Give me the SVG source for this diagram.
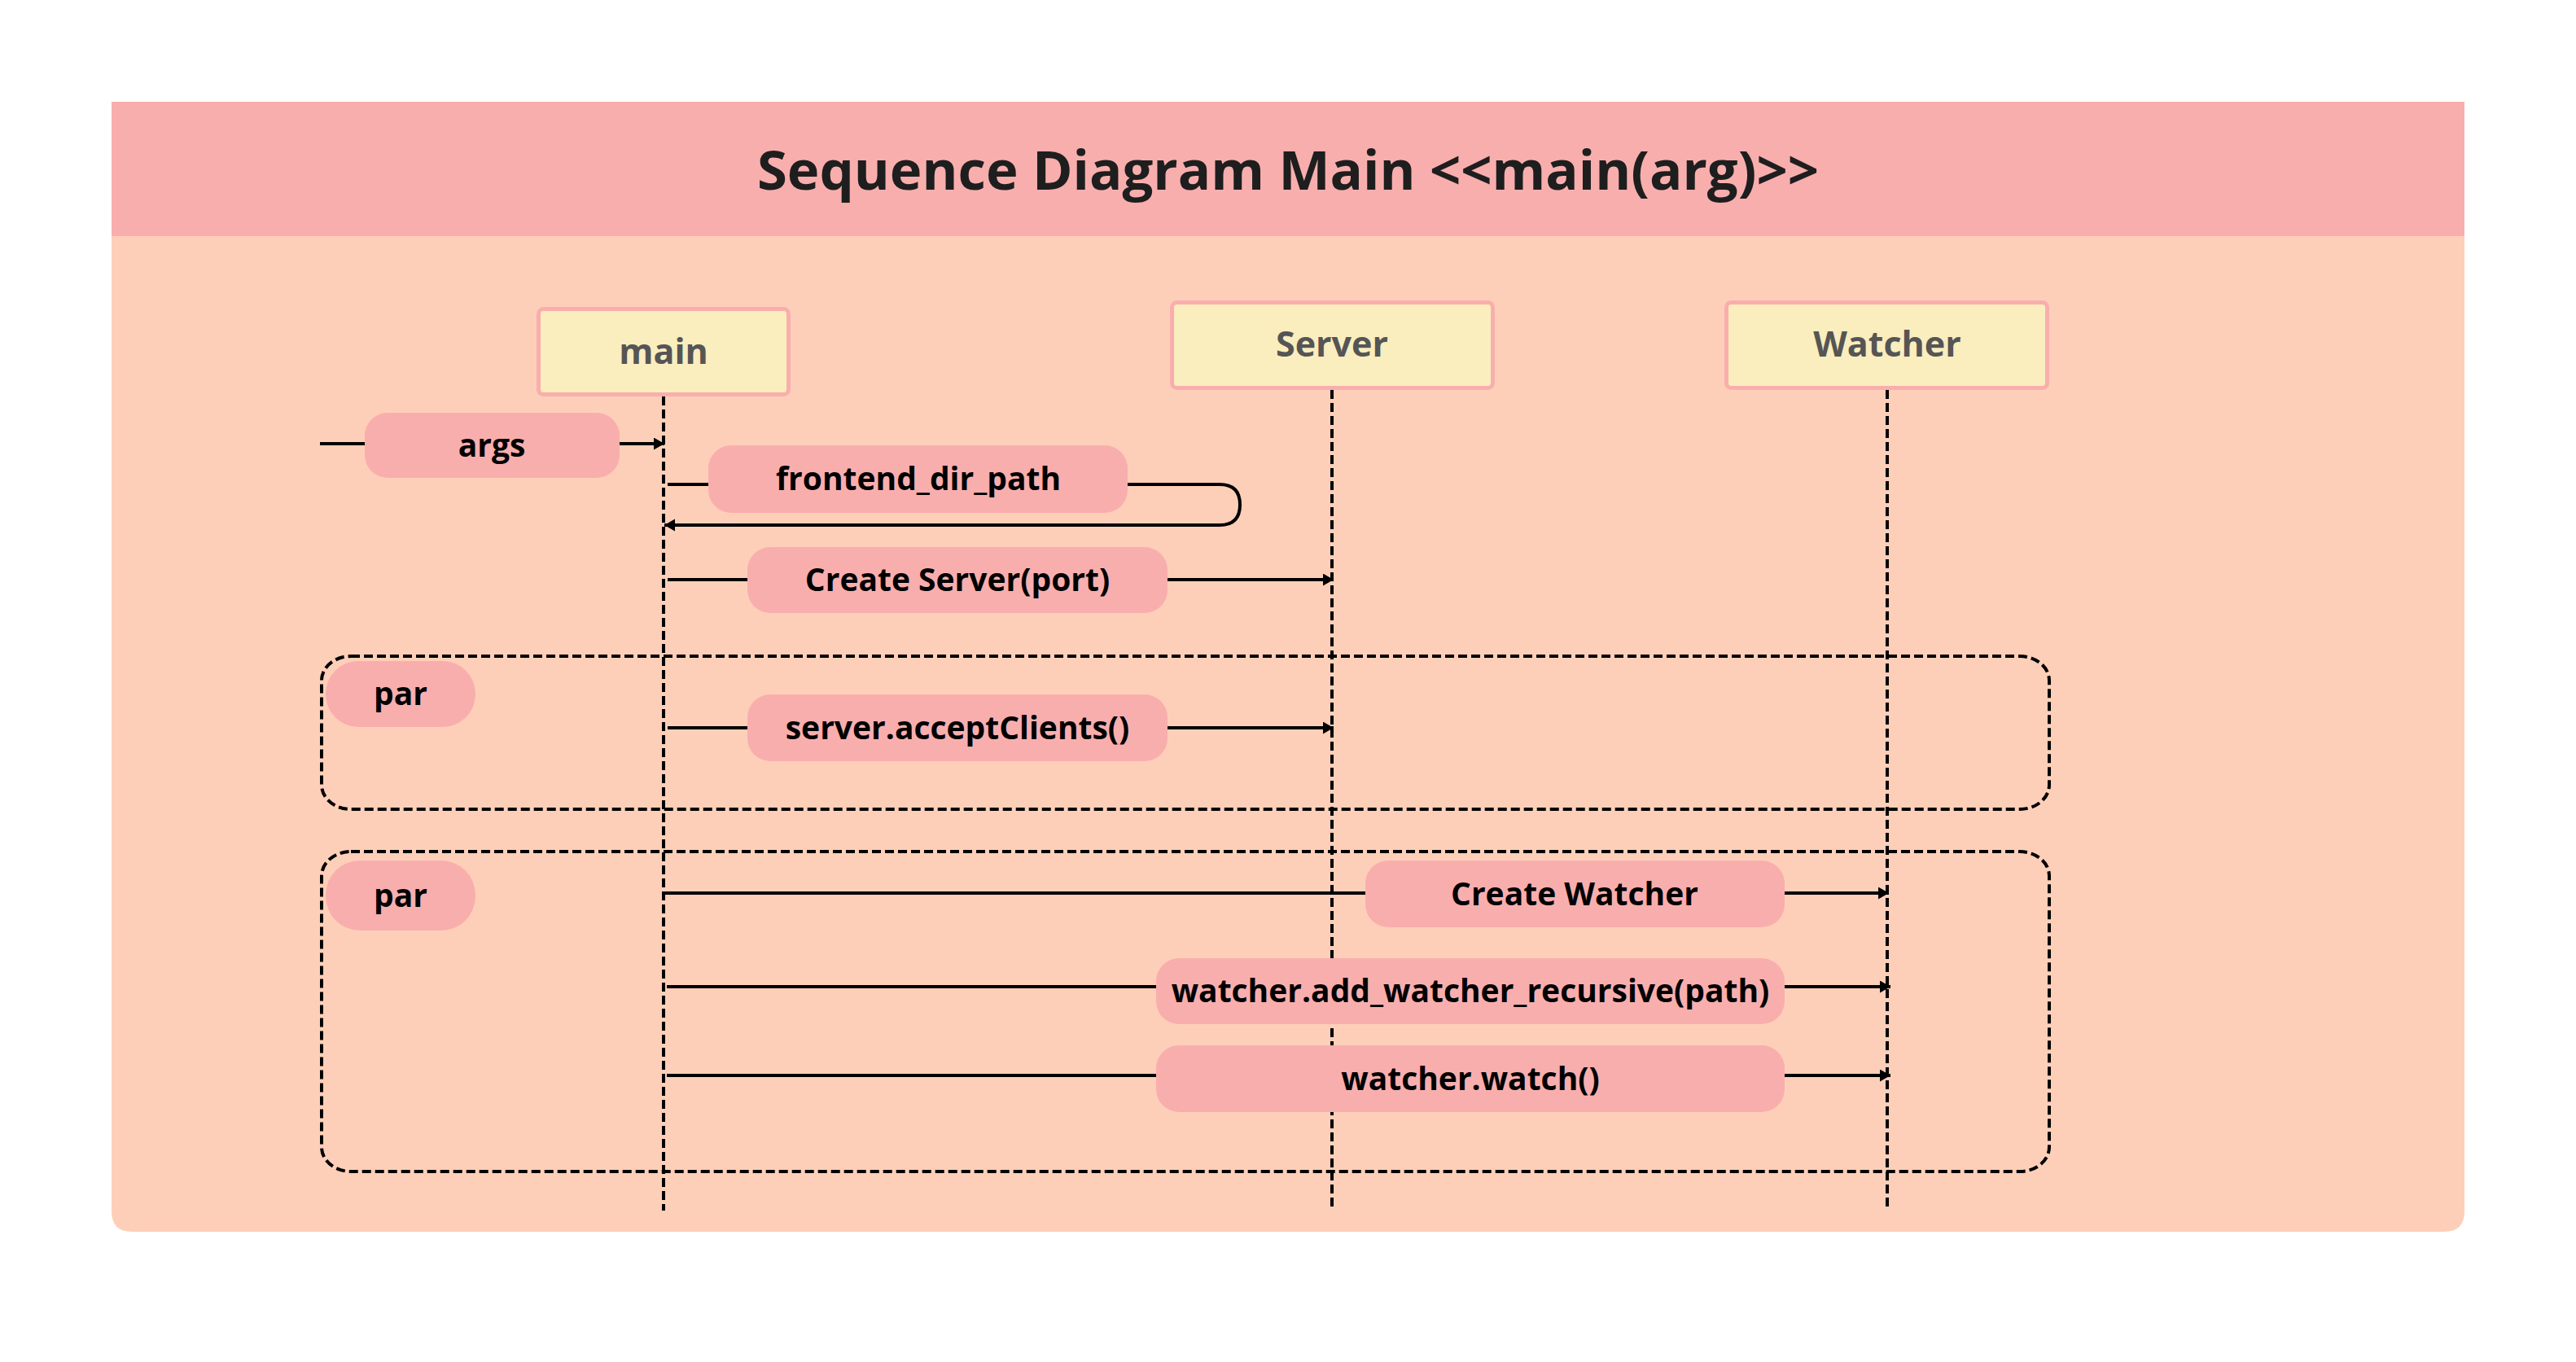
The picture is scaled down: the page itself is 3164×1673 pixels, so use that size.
<svg xmlns="http://www.w3.org/2000/svg" width="3164" height="1673" viewBox="0 0 3164 1673">
<style>
.bg{fill:#ffffff}
.body{fill:#FECFB8}
.head{fill:#F9AEAE}
.title{font-family:"Open Sans","Liberation Sans",sans-serif;font-weight:700;font-size:67px;fill:#1E1E1E;text-anchor:middle}
.node rect{fill:#FAEDBE;stroke:#F9AEAE;stroke-width:5}
.node text{font-family:"Open Sans","Liberation Sans",sans-serif;font-weight:700;font-size:43px;fill:#555555;text-anchor:middle}
.life{stroke:#000;stroke-width:4;stroke-dasharray:11 5;fill:none}
.frame{stroke:#000;stroke-width:4;stroke-dasharray:11 5;fill:none}
.msg{stroke:#000;stroke-width:4;fill:none}
.lbl rect{fill:#F9AEAE}
.lbl text{font-family:"Open Sans","Liberation Sans",sans-serif;font-weight:700;font-size:39px;fill:#000;text-anchor:middle}
</style>
<defs>
<marker id="ah" markerUnits="userSpaceOnUse" markerWidth="14" markerHeight="16" refX="13" refY="7.5" orient="auto">
<path d="M0,0 L13,7.5 L0,15 z" fill="#000"/>
</marker>
</defs>
<rect class="bg" x="0" y="0" width="3164" height="1673"/>
<g id="panel">
<path class="body" d="M137,125 H3027 V1488 Q3027,1513 3002,1513 H162 Q137,1513 137,1488 Z"/>
<rect class="head" x="137" y="125" width="2890" height="165"/>
<text class="title" x="1582" y="233">Sequence Diagram Main &lt;&lt;main(arg)&gt;&gt;</text>
</g>
<g id="frames">
<rect id="par-frame-1" class="frame" x="395" y="806" width="2122" height="188" rx="36" ry="30"/>
<rect id="par-frame-2" class="frame" x="395" y="1046" width="2122" height="393" rx="36" ry="30"/>
</g>
<g id="lifelines">
<line class="life" x1="815" y1="487" x2="815" y2="1487"/>
<line class="life" x1="1636" y1="479" x2="1636" y2="1484"/>
<line class="life" x1="2318" y1="479" x2="2318" y2="1484"/>
</g>
<g id="node-main" class="node">
<rect x="661.5" y="379.5" width="307" height="105" rx="6"/>
<text x="815" y="447">main</text>
</g>
<g id="node-server" class="node">
<rect x="1439.5" y="371.5" width="394" height="105" rx="6"/>
<text x="1636" y="438">Server</text>
</g>
<g id="node-watcher" class="node">
<rect x="2120.5" y="371.5" width="394" height="105" rx="6"/>
<text x="2318" y="438">Watcher</text>
</g>
<g id="connectors">
<line class="msg" x1="393" y1="545" x2="448" y2="545"/>
<line class="msg" x1="760" y1="545" x2="816" y2="545" marker-end="url(#ah)"/>
<line class="msg" x1="820" y1="595" x2="870" y2="595"/>
<path class="msg" d="M1385,595 H1498 Q1523,595 1523,620 Q1523,645 1498,645 H816" marker-end="url(#ah)"/>
<line class="msg" x1="820" y1="712" x2="918" y2="712"/>
<line class="msg" x1="1434" y1="712" x2="1638" y2="712" marker-end="url(#ah)"/>
<line class="msg" x1="820" y1="894" x2="918" y2="894"/>
<line class="msg" x1="1434" y1="894" x2="1638" y2="894" marker-end="url(#ah)"/>
<line class="msg" x1="815" y1="1097" x2="1677" y2="1097"/>
<line class="msg" x1="2192" y1="1097" x2="2320" y2="1097" marker-end="url(#ah)"/>
<line class="msg" x1="819" y1="1212" x2="1420" y2="1212"/>
<line class="msg" x1="2192" y1="1212" x2="2322" y2="1212" marker-end="url(#ah)"/>
<line class="msg" x1="819" y1="1321" x2="1420" y2="1321"/>
<line class="msg" x1="2192" y1="1321" x2="2322" y2="1321" marker-end="url(#ah)"/>
</g>
<g id="label-args" class="lbl">
<rect x="448" y="507" width="313" height="80" rx="28"/>
<text x="604" y="561">args</text>
</g>
<g id="label-frontend" class="lbl">
<rect x="870" y="547" width="515" height="83" rx="28"/>
<text x="1128" y="602">frontend_dir_path</text>
</g>
<g id="label-create-server" class="lbl">
<rect x="918" y="672" width="516" height="81" rx="28"/>
<text x="1176" y="726">Create Server(port)</text>
</g>
<g id="label-par-1" class="lbl">
<rect x="400" y="812" width="184" height="81" rx="40"/>
<text x="492" y="866">par</text>
</g>
<g id="label-accept" class="lbl">
<rect x="918" y="853" width="516" height="82" rx="28"/>
<text x="1176" y="908">server.acceptClients()</text>
</g>
<g id="label-par-2" class="lbl">
<rect x="400" y="1057" width="184" height="86" rx="42"/>
<text x="492" y="1114">par</text>
</g>
<g id="label-create-watcher" class="lbl">
<rect x="1677" y="1057" width="515" height="82" rx="28"/>
<text x="1934" y="1112">Create Watcher</text>
</g>
<g id="label-add-watcher" class="lbl">
<rect x="1420" y="1177" width="772" height="81" rx="28"/>
<text x="1806" y="1231">watcher.add_watcher_recursive(path)</text>
</g>
<g id="label-watch" class="lbl">
<rect x="1420" y="1284" width="772" height="82" rx="28"/>
<text x="1806" y="1339">watcher.watch()</text>
</g>
</svg>
